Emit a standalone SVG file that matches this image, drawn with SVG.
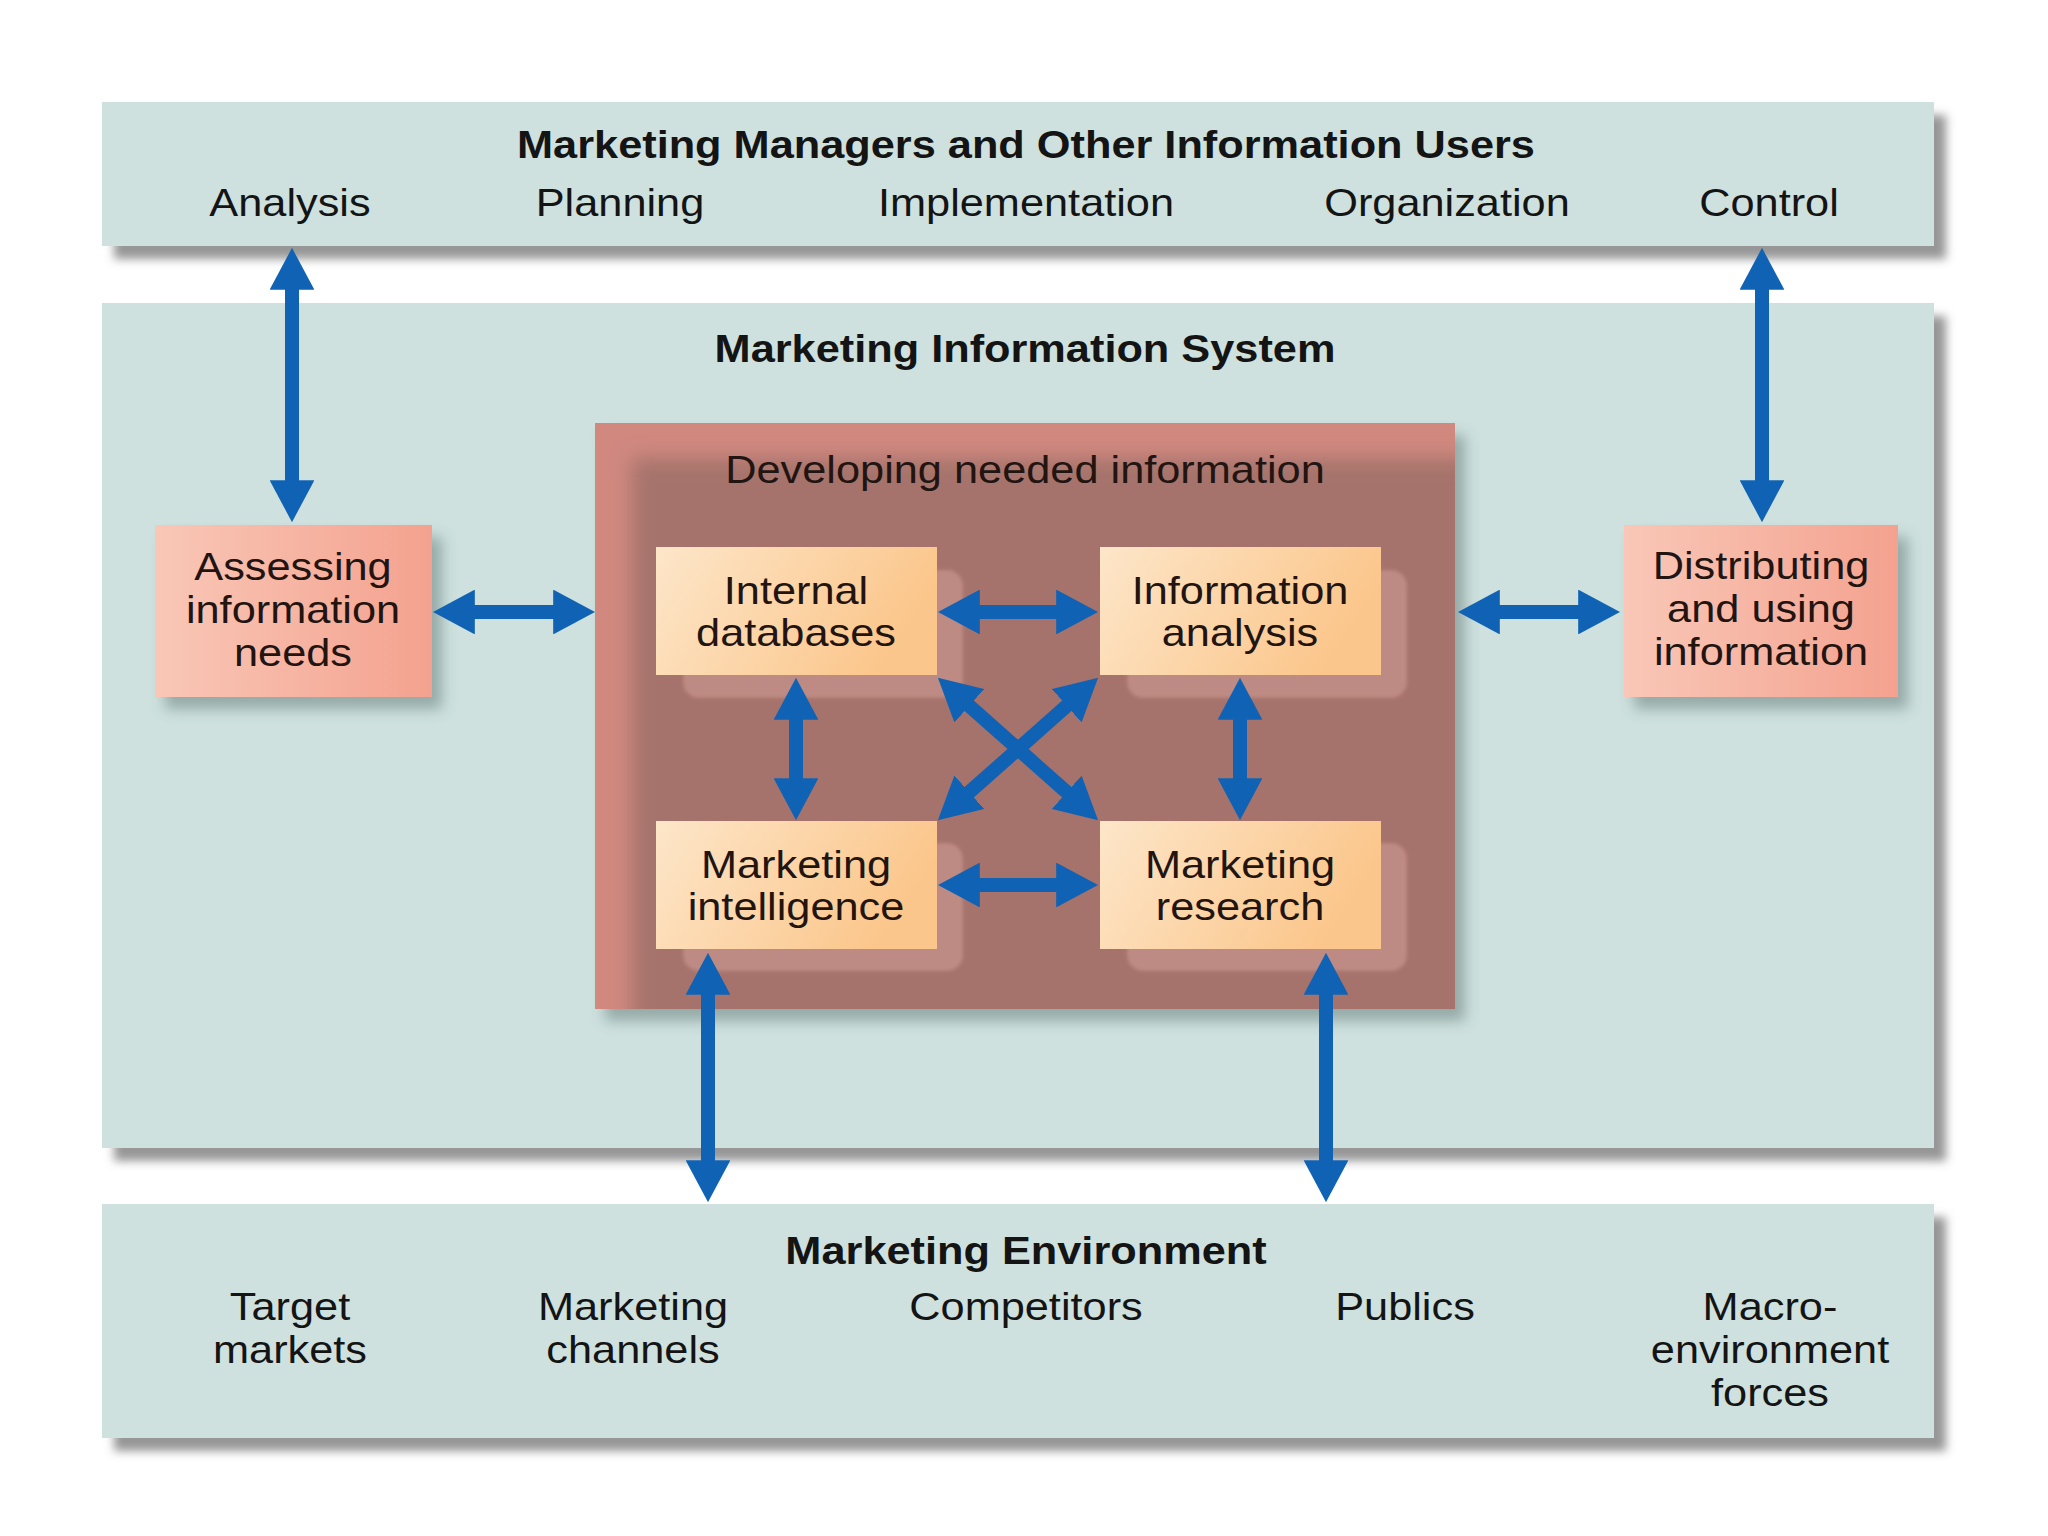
<svg xmlns="http://www.w3.org/2000/svg" width="2048" height="1536" viewBox="0 0 2048 1536">
<defs>
<style>
.band{fill:#cee1de}
.t{font-family:"Liberation Sans",Arial,sans-serif;font-size:38px;fill:#141414;text-anchor:middle}
.b{font-weight:bold}
.bt{fill:#221410}
.obox{fill:url(#orangeGrad)}
.sbox{fill:url(#salmonGrad)}
.plate{fill:#bd8b84;stroke:#b27c75;stroke-width:2}
.conn{stroke:#1063b4;stroke-width:14;fill:none;marker-start:url(#head);marker-end:url(#head)}
</style>
<linearGradient id="orangeGrad" x1="0" y1="0" x2="1" y2="0.3">
<stop offset="0" stop-color="#fde6c9"/>
<stop offset="1" stop-color="#fbc68b"/>
</linearGradient>
<linearGradient id="salmonGrad" x1="0" y1="0" x2="1" y2="0">
<stop offset="0" stop-color="#f9c7b7"/>
<stop offset="1" stop-color="#f4a28f"/>
</linearGradient>
<filter id="bandShadow" x="-5%" y="-20%" width="115%" height="150%">
<feDropShadow dx="12" dy="13" stdDeviation="5" flood-color="#6a6a6a" flood-opacity="0.7"/>
</filter>
<filter id="boxShadow" x="-20%" y="-20%" width="150%" height="150%">
<feDropShadow dx="10" dy="12" stdDeviation="7" flood-color="#4f6866" flood-opacity="0.45"/>
</filter>
<filter id="blur10" x="-10%" y="-10%" width="130%" height="130%">
<feGaussianBlur stdDeviation="10"/>
</filter>
<filter id="blur2">
<feGaussianBlur stdDeviation="1.5"/>
</filter>
<clipPath id="devClip"><rect x="595" y="423" width="860" height="586"/></clipPath>
<marker id="head" viewBox="0 0 30 32" refX="2" refY="16" markerWidth="3" markerHeight="3.2" orient="auto-start-reverse">
<path d="M0 0 L30 16 L0 32 Z" fill="#1063b4"/>
</marker>
</defs>
<rect width="2048" height="1536" fill="#ffffff"/>

<g id="band-users">
<rect class="band" x="102" y="102" width="1832" height="144" filter="url(#bandShadow)"/>
<text class="t b" transform="translate(1026 0) scale(1.14 1)" y="158">Marketing Managers and Other Information Users</text>
<text class="t" transform="translate(290 0) scale(1.14 1)" y="216">Analysis</text>
<text class="t" transform="translate(620 0) scale(1.14 1)" y="216">Planning</text>
<text class="t" transform="translate(1026 0) scale(1.14 1)" y="216">Implementation</text>
<text class="t" transform="translate(1447 0) scale(1.14 1)" y="216">Organization</text>
<text class="t" transform="translate(1769 0) scale(1.14 1)" y="216">Control</text>
</g>

<g id="band-mis">
<rect class="band" x="102" y="303" width="1832" height="845" filter="url(#bandShadow)"/>
<text class="t b" transform="translate(1025 0) scale(1.14 1)" y="362">Marketing Information System</text>
</g>

<g id="band-env">
<rect class="band" x="102" y="1204" width="1832" height="234" filter="url(#bandShadow)"/>
<text class="t b" transform="translate(1026 0) scale(1.14 1)" y="1264">Marketing Environment</text>
<text class="t" transform="translate(290 0) scale(1.14 1)" y="1320">Target</text>
<text class="t" transform="translate(290 0) scale(1.14 1)" y="1363">markets</text>
<text class="t" transform="translate(633 0) scale(1.14 1)" y="1320">Marketing</text>
<text class="t" transform="translate(633 0) scale(1.14 1)" y="1363">channels</text>
<text class="t" transform="translate(1026 0) scale(1.14 1)" y="1320">Competitors</text>
<text class="t" transform="translate(1405 0) scale(1.14 1)" y="1320">Publics</text>
<text class="t" transform="translate(1770 0) scale(1.14 1)" y="1320">Macro-</text>
<text class="t" transform="translate(1770 0) scale(1.14 1)" y="1363">environment</text>
<text class="t" transform="translate(1770 0) scale(1.14 1)" y="1406">forces</text>
</g>

<g id="developing">
<rect x="595" y="423" width="860" height="586" fill="#d0887f" filter="url(#boxShadow)"/>
<g clip-path="url(#devClip)">
<rect x="632" y="458" width="850" height="580" fill="#a5736c" filter="url(#blur10)"/>
</g>
<text class="t bt" transform="translate(1025 0) scale(1.14 1)" y="483">Developing needed information</text>
</g>

<g id="internal-databases">
<rect class="plate" x="683" y="570" width="280" height="128" rx="16" filter="url(#blur2)"/>
<rect class="obox" x="656" y="547" width="281" height="128"/>
<text class="t bt" transform="translate(796 0) scale(1.14 1)" y="604">Internal</text>
<text class="t bt" transform="translate(796 0) scale(1.14 1)" y="646">databases</text>
</g>

<g id="information-analysis">
<rect class="plate" x="1127" y="570" width="280" height="128" rx="16" filter="url(#blur2)"/>
<rect class="obox" x="1100" y="547" width="281" height="128"/>
<text class="t bt" transform="translate(1240 0) scale(1.14 1)" y="604">Information</text>
<text class="t bt" transform="translate(1240 0) scale(1.14 1)" y="646">analysis</text>
</g>

<g id="marketing-intelligence">
<rect class="plate" x="683" y="843" width="280" height="128" rx="16" filter="url(#blur2)"/>
<rect class="obox" x="656" y="821" width="281" height="128"/>
<text class="t bt" transform="translate(796 0) scale(1.14 1)" y="878">Marketing</text>
<text class="t bt" transform="translate(796 0) scale(1.14 1)" y="920">intelligence</text>
</g>

<g id="marketing-research">
<rect class="plate" x="1127" y="843" width="280" height="128" rx="16" filter="url(#blur2)"/>
<rect class="obox" x="1100" y="821" width="281" height="128"/>
<text class="t bt" transform="translate(1240 0) scale(1.14 1)" y="878">Marketing</text>
<text class="t bt" transform="translate(1240 0) scale(1.14 1)" y="920">research</text>
</g>

<g id="assessing">
<rect class="sbox" x="155" y="525" width="277" height="172" filter="url(#boxShadow)"/>
<text class="t bt" transform="translate(293 0) scale(1.14 1)" y="580">Assessing</text>
<text class="t bt" transform="translate(293 0) scale(1.14 1)" y="623">information</text>
<text class="t bt" transform="translate(293 0) scale(1.14 1)" y="666">needs</text>
</g>

<g id="distributing">
<rect class="sbox" x="1624" y="525" width="274" height="172" filter="url(#boxShadow)"/>
<text class="t bt" transform="translate(1761 0) scale(1.14 1)" y="579">Distributing</text>
<text class="t bt" transform="translate(1761 0) scale(1.14 1)" y="622">and using</text>
<text class="t bt" transform="translate(1761 0) scale(1.14 1)" y="665">information</text>
</g>

<g id="connectors">
<line class="conn" x1="292" y1="287" x2="292" y2="483"/>
<line class="conn" x1="1762" y1="287" x2="1762" y2="483"/>
<line class="conn" x1="472" y1="612" x2="556" y2="612"/>
<line class="conn" x1="1497" y1="612" x2="1581" y2="612"/>
<line class="conn" x1="977" y1="612" x2="1059" y2="612"/>
<line class="conn" x1="977" y1="885" x2="1059" y2="885"/>
<line class="conn" x1="796" y1="717" x2="796" y2="781"/>
<line class="conn" x1="1240" y1="717" x2="1240" y2="781"/>
<line class="conn" x1="967.2" y1="703.9" x2="1068.8" y2="794.1"/>
<line class="conn" x1="1068.8" y1="703.9" x2="967.2" y2="794.1"/>
<line class="conn" x1="708" y1="992" x2="708" y2="1163"/>
<line class="conn" x1="1326" y1="992" x2="1326" y2="1163"/>
</g>
</svg>
